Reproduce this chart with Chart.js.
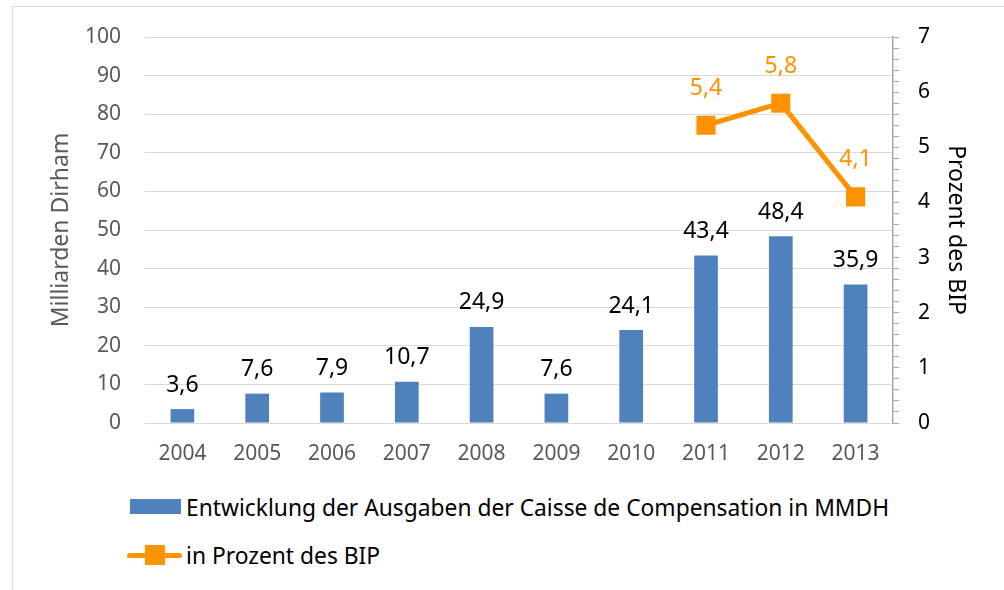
<!DOCTYPE html>
<html lang="de">
<head>
    <meta charset="UTF-8">
    <title>Caisse de Compensation</title>
    <script src="https://cdn.jsdelivr.net/npm/chart.js"></script>
    <style>
        body { margin: 0; width: 1004px; height: 590px; overflow: hidden; background: #fff; font-family: 'Noto Sans', sans-serif; position: relative; }
        .frame { position: absolute; left: 12px; top: 6px; width: 1000px; height: 600px; border: 1px solid #d9d9d9; }
        #chartBox { position: absolute; left: 0; top: 0; width: 1004px; height: 480px; }
        .legend-row { position: absolute; left: 0; height: 30px; display: flex; align-items: center; font-size: 22.8px; color: #000; }
        .swatch-bar { position: absolute; left: 130px; width: 51px; height: 15px; background: #4f81bd; }
        .swatch-line { position: absolute; left: 127px; width: 55px; height: 5px; background: #ff9200; border-radius: 3px; }
        .swatch-line span { position: absolute; left: 18px; top: -8px; width: 20px; height: 20px; background: #ff9200; }
        .legend-text { position: absolute; left: 186px; white-space: nowrap; }
    </style>
</head>
<body>
    <div class="frame"></div>
    <div id="chartBox"><canvas id="chart"></canvas></div>

    <!-- Legend -->
    <div class="legend-row" style="top: 492px;">
        <div class="swatch-bar" style="top: 7px;"></div>
        <div class="legend-text">Entwicklung der Ausgaben der Caisse de Compensation in MMDH</div>
    </div>
    <div class="legend-row" style="top: 540px;">
        <div class="swatch-line" style="top: 13px;"><span></span></div>
        <div class="legend-text">in Prozent des BIP</div>
    </div>

    <script>
        const years = ["2004", "2005", "2006", "2007", "2008", "2009", "2010", "2011", "2012", "2013"];
        const spending = [3.6, 7.6, 7.9, 10.7, 24.9, 7.6, 24.1, 43.4, 48.4, 35.9];
        const gdpShare = [null, null, null, null, null, null, null, 5.4, 5.8, 4.1];

        const barLabel = "Entwicklung der Ausgaben der Caisse de Compensation in MMDH";
        const lineLabel = "in Prozent des BIP";

        const blue = "#4f81bd";
        const orange = "#ff9200";

        const fmt = v => String(v).replace(".", ",");

        // draws the value labels above bars and points
        const valueLabels = {
            id: "valueLabels",
            afterDatasetsDraw(chart) {
                const ctx = chart.ctx;
                ctx.save();
                ctx.textAlign = "center";
                ctx.textBaseline = "middle";
                ctx.font = "23px 'Noto Sans'";
                chart.data.datasets.forEach((ds, i) => {
                    const meta = chart.getDatasetMeta(i);
                    meta.data.forEach((el, j) => {
                        const v = ds.data[j];
                        if (v === null || v === undefined) return;
                        if (ds.type === "line") {
                            ctx.fillStyle = orange;
                            ctx.fillText(fmt(v), el.x, el.y - 37);
                        } else {
                            ctx.fillStyle = "#000";
                            ctx.fillText(fmt(v), el.x, el.y - 24);
                        }
                    });
                });
                ctx.restore();
            }
        };

        new Chart(document.getElementById("chart"), {
            data: {
                labels: years,
                datasets: [
                    {
                        type: "line",
                        label: lineLabel,
                        data: gdpShare,
                        yAxisID: "y2",
                        borderColor: orange,
                        backgroundColor: orange,
                        borderWidth: 5,
                        pointStyle: "rect",
                        pointRadius: 13.5,
                        pointBorderWidth: 0,
                        pointBackgroundColor: orange,
                        spanGaps: false,
                        order: 0
                    },
                    {
                        type: "bar",
                        label: barLabel,
                        data: spending,
                        yAxisID: "y",
                        backgroundColor: blue,
                        barPercentage: 0.317,
                        categoryPercentage: 1,
                        order: 1
                    }
                ]
            },
            options: {
                responsive: true,
                maintainAspectRatio: false,
                animation: false,
                layout: { padding: { top: 37, left: 0, right: 0, bottom: 0 } },
                plugins: {
                    legend: { display: false },
                    tooltip: { enabled: false }
                },
                scales: {
                    x: {
                        grid: { display: false },
                        border: { display: false },
                        ticks: { color: "#595959", font: { family: "Noto Sans", size: 21 }, padding: 10, maxRotation: 0 },
                        afterFit(scale) { scale.height = 57; }
                    },
                    y: {
                        position: "left",
                        min: 0,
                        max: 100,
                        ticks: { stepSize: 10, color: "#595959", font: { family: "Noto Sans", size: 21 }, padding: 24 },
                        grid: { color: "#d9d9d9", lineWidth: 1, drawTicks: false },
                        border: { display: false },
                        title: {
                            display: true,
                            text: "Milliarden Dirham",
                            color: "#595959",
                            font: { family: "Noto Sans", size: 23 },
                            padding: { top: 48, bottom: 0 }
                        },
                        afterFit(scale) { scale.width = 145; }
                    },
                    y2: {
                        position: "right",
                        min: 0,
                        max: 7,
                        ticks: {
                            stepSize: 0.2,
                            autoSkip: false,
                            color: "#000",
                            font: { family: "Noto Sans", size: 21 },
                            padding: 19,
                            callback: v => Math.abs(v - Math.round(v)) < 1e-6 ? String(Math.round(v)) : ""
                        },
                        grid: { drawOnChartArea: false, tickLength: 6, color: "#a6a6a6" },
                        border: { display: true, color: "#a6a6a6", width: 1.5 },
                        title: {
                            display: true,
                            text: "Prozent des BIP",
                            color: "#000",
                            font: { family: "Noto Sans", size: 23 },
                            padding: { top: 35, bottom: 0 }
                        },
                        afterFit(scale) { scale.width = 111; }
                    }
                }
            },
            plugins: [valueLabels]
        });
    </script>
</body>
</html>
